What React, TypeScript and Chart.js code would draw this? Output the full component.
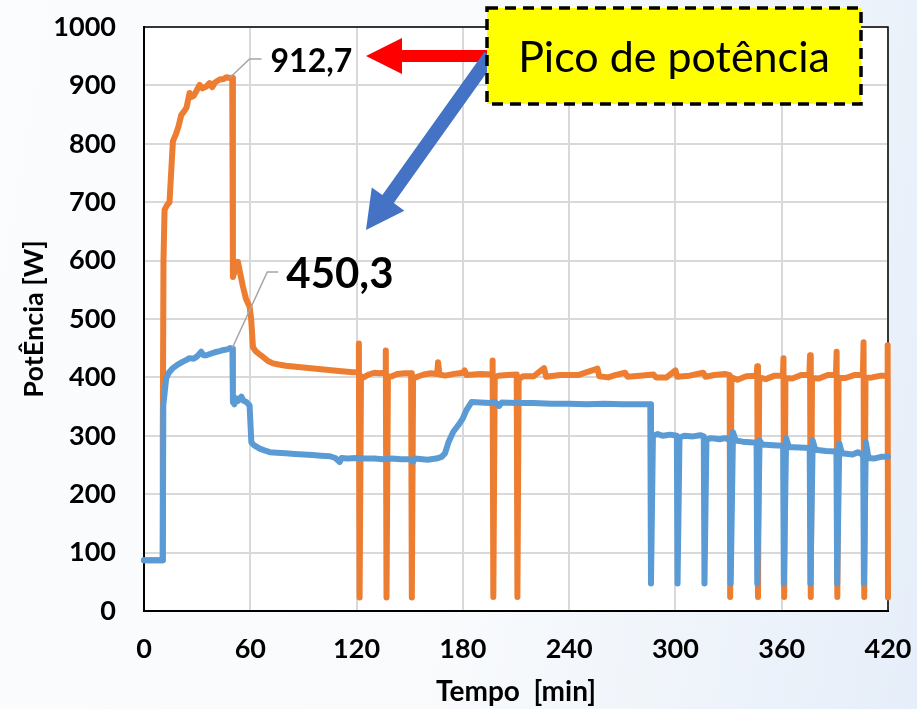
import React, { useEffect, useRef } from "react";
import { Chart, registerables } from "chart.js";

Chart.register(...registerables);

// ---- data ----
const xTickValues = [0, 60, 120, 180, 240, 300, 360, 420];
const yTickValues = [0, 100, 200, 300, 400, 500, 600, 700, 800, 900, 1000];

const blueTime = [
  0, 10.6, 10.9, 12.5, 14, 16.3, 19, 22, 24, 25.7, 28, 30, 32.3, 33.5, 35.2, 38, 40, 42.7, 45, 47, 48.7, 49.9,
  50.2, 51, 52.1, 53.2, 55, 56.2, 57.8, 59.6, 60.6, 62, 65.3, 68, 71, 75, 80, 85, 90, 95, 100, 105, 108, 110.5,
  111.5, 115, 120, 125, 130, 135, 140, 145, 150, 152, 153, 160, 165, 168, 169.9, 172, 174.6, 177.4, 180, 182,
  185, 190, 195, 198, 200.5, 202, 210, 220, 230, 240, 250, 260, 270, 280, 285.8, 286.2, 287.3, 290, 293, 297,
  300.8, 301.2, 302.3, 305, 310, 314, 316, 316.4, 317.5, 320, 325, 328, 330.8, 331.2, 332.5, 334, 338, 342,
  345.8, 346.2, 347.5, 349, 355, 360.8, 361.2, 362.5, 364, 370, 375.8, 376.2, 377.5, 379, 385, 390.9, 391.3,
  392.5, 394, 400, 403, 406, 406.4, 407.5, 409, 412, 416, 420,
];
const blueValue = [
  87, 87, 352, 398, 408, 416, 422, 427, 430, 433, 432, 436, 444, 438, 438, 441, 443, 445, 447, 448, 450.3, 449,
  358, 354, 364, 360, 367, 360, 358, 352, 289, 284, 278, 275, 272, 271, 270, 269, 268, 267, 266, 265, 262, 255,
  262, 261, 262, 261, 261, 260, 261, 260, 260, 256, 261, 259, 261, 264, 270, 290, 307, 318, 330, 344,
  358, 357, 356, 358, 351, 357, 356, 356, 355, 355, 354, 355, 354, 354, 354, 47, 300, 303, 300, 302,
  300, 47, 297, 300, 299, 301, 299, 47, 293, 296, 294, 296, 293, 47, 306, 292, 290, 289,
  288, 47, 292, 285, 284, 283, 47, 296, 281, 280, 279, 47, 292, 276, 274, 273, 47,
  287, 270, 268, 272, 267, 47, 289, 262, 261, 264, 264,
];

const orangeTime = [
  0, 10.4, 10.6, 11, 11.6, 13, 14.4, 15.5, 16.3, 18.2, 19.5, 21, 22.5, 24, 25.7, 26.7, 28, 29.5, 31.4, 33, 35.2,
  37, 38.5, 40, 42.7, 45, 46.5, 48.3, 49.8, 50.2, 51, 52, 53, 54.5, 55.9, 57.5, 59.6, 60.5, 61.5, 63, 65, 67.2,
  70, 72.8, 76, 80, 90, 100, 110, 118, 121, 121.3, 121.7, 122.5, 124, 127, 130, 133, 136.2, 136.5, 136.9, 137.7,
  140, 143, 147, 150.8, 151.2, 151.9, 155, 158, 162, 165.5, 166, 166.8, 170, 175, 180, 181, 182, 186, 190, 196.5,
  196.8, 197.2, 198, 200, 205, 210.4, 210.8, 211.5, 214, 220, 225.8, 227, 235, 245, 256, 257, 262, 266, 271.6,
  273, 280, 287.6, 289, 295, 300, 301, 308, 315.7, 317, 322, 328, 330.6, 330.9, 331.6, 335, 340, 345.8, 346.2,
  346.6, 347.3, 351, 356, 360.7, 361, 361.4, 362.1, 366, 371, 375.6, 376, 376.4, 377.1, 381, 386, 390.6, 391,
  391.4, 392.1, 396, 401, 405.8, 406.2, 406.6, 407.3, 411, 416, 419.5, 419.8, 420,
];
const orangeValue = [
  87, 87, 300, 600, 687, 695, 700, 760, 804, 818, 830, 849, 855, 862, 887, 880, 882, 890, 901, 895, 898,
  904, 897, 905, 910, 911, 914, 912.7, 913, 572, 580, 590, 598, 575, 555, 535, 521, 500, 452, 445, 440, 435,
  428, 424, 422, 420, 417, 414, 411, 409, 409, 458, 23, 402, 400, 405, 408, 407, 408, 446, 23, 401,
  402, 406, 407, 407, 23, 398, 402, 405, 407, 406, 426, 405, 403, 406, 408, 412, 404, 405, 406, 405,
  429, 24, 400, 403, 404, 405, 24, 397, 402, 402, 416, 401, 404, 404, 415, 402, 400, 404, 408,
  401, 403, 405, 400, 400, 412, 401, 403, 408, 401, 404, 406, 404, 24, 400, 396, 402, 403, 419,
  24, 400, 397, 403, 403, 433, 24, 399, 398, 404, 404, 438, 24, 399, 398, 404, 404, 444,
  24, 399, 399, 404, 404, 460, 24, 399, 400, 403, 403, 455, 23,
];

const orangePeak = { t: 48.3, v: 912.7, label: "912,7" };
const bluePeak = { t: 48.7, v: 450.3, label: "450,3" };
const calloutText = "Pico de potência";
const xTitle = "Tempo  [min]";
const yTitle = "PotÊncia [W]";

const FONT = "Lato, 'Liberation Sans', sans-serif";

function arrowPolygon(ctx: CanvasRenderingContext2D, x0: number, y0: number, x1: number, y1: number, shaft: number, headLen: number, headHalf: number) {
  const dx = x1 - x0;
  const dy = y1 - y0;
  const len = Math.hypot(dx, dy);
  const ux = dx / len;
  const uy = dy / len;
  const nx = -uy;
  const ny = ux;
  const bx = x1 - ux * headLen;
  const by = y1 - uy * headLen;
  const s = shaft / 2;
  ctx.beginPath();
  ctx.moveTo(x0 + nx * s, y0 + ny * s);
  ctx.lineTo(bx + nx * s, by + ny * s);
  ctx.lineTo(bx + nx * headHalf, by + ny * headHalf);
  ctx.lineTo(x1, y1);
  ctx.lineTo(bx - nx * headHalf, by - ny * headHalf);
  ctx.lineTo(bx - nx * s, by - ny * s);
  ctx.lineTo(x0 - nx * s, y0 - ny * s);
  ctx.closePath();
  ctx.fill();
}

const decorPlugin = {
  id: "decor",
  beforeDraw(chart: any) {
    const { ctx, chartArea: a } = chart;
    ctx.save();
    ctx.fillStyle = "#ffffff";
    ctx.fillRect(a.left, a.top, a.right - a.left, a.bottom - a.top);
    ctx.restore();
  },
  beforeDatasetsDraw(chart: any) {
    const { ctx, chartArea: a } = chart;
    ctx.save();
    ctx.strokeStyle = "#000";
    ctx.lineWidth = 1.5;
    ctx.beginPath();
    ctx.moveTo(a.left, a.top);
    ctx.lineTo(a.right, a.top);
    ctx.lineTo(a.right, a.bottom);
    ctx.stroke();
    ctx.restore();
  },
  afterDraw(chart: any) {
    const { ctx } = chart;
    const xs = chart.scales.x;
    const ys = chart.scales.y;
    ctx.save();

    // leader lines + value labels
    const op = { x: xs.getPixelForValue(orangePeak.t), y: ys.getPixelForValue(orangePeak.v) };
    const bp = { x: xs.getPixelForValue(bluePeak.t), y: ys.getPixelForValue(bluePeak.v) };
    ctx.strokeStyle = "#a5a5a5";
    ctx.lineWidth = 1.5;
    ctx.beginPath();
    ctx.moveTo(op.x, op.y);
    ctx.lineTo(op.x + 20, op.y - 19);
    ctx.lineTo(op.x + 32, op.y - 19);
    ctx.stroke();
    ctx.beginPath();
    ctx.moveTo(bp.x + 2, bp.y);
    ctx.lineTo(bp.x + 37, bp.y - 76);
    ctx.lineTo(bp.x + 48, bp.y - 76);
    ctx.stroke();

    ctx.fillStyle = "#000";
    ctx.textAlign = "left";
    ctx.textBaseline = "alphabetic";
    ctx.font = `bold 32px ${FONT}`;
    ctx.fillText(orangePeak.label, op.x + 41, op.y - 6);
    ctx.font = `bold 42px ${FONT}`;
    ctx.fillText(bluePeak.label, bp.x + 56, bp.y - 60);

    // arrows
    ctx.fillStyle = "#ff0000";
    arrowPolygon(ctx, 490, 56, 366, 56, 12, 36, 18);
    ctx.fillStyle = "#4472c4";
    arrowPolygon(ctx, 490, 56, 366, 230, 14, 38, 20);

    // callout box
    const bx = 487, by = 8, bw = 374, bh = 96;
    ctx.fillStyle = "#ffff00";
    ctx.fillRect(bx, by, bw, bh);
    ctx.setLineDash([11, 7]);
    ctx.lineWidth = 3.5;
    ctx.strokeStyle = "#000";
    ctx.strokeRect(bx, by, bw, bh);
    ctx.setLineDash([]);
    ctx.fillStyle = "#000";
    ctx.font = `43px ${FONT}`;
    ctx.textAlign = "center";
    ctx.fillText(calloutText, bx + bw / 2, 72);
    ctx.restore();
  },
};

export default function App() {
  const ref = useRef<HTMLCanvasElement | null>(null);

  useEffect(() => {
    document.body.style.margin = "0";
    const canvas = ref.current;
    if (!canvas) return;
    const tickFont = { family: FONT, weight: "bold" as const, size: 27 };
    const chart = new Chart(canvas, {
      type: "line",
      data: {
        datasets: [
          {
            label: "Série azul",
            data: blueTime.map((t, i) => ({ x: t, y: blueValue[i] })),
            borderColor: "#5b9bd5",
            borderWidth: 6,
            pointRadius: 0,
            tension: 0,
            borderJoinStyle: "round",
            borderCapStyle: "round",
            clip: false as any,
          },
          {
            label: "Série laranja",
            data: orangeTime.map((t, i) => ({ x: t, y: orangeValue[i] })),
            borderColor: "#ed7d31",
            borderWidth: 6,
            pointRadius: 0,
            tension: 0,
            borderJoinStyle: "round",
            borderCapStyle: "round",
            clip: false as any,
          },
        ],
      },
      options: {
        responsive: false,
        maintainAspectRatio: false,
        animation: false,
        layout: { padding: { top: 27, right: 29, left: 0, bottom: 0 } },
        plugins: { legend: { display: false }, tooltip: { enabled: false } },
        scales: {
          x: {
            type: "linear",
            min: 0,
            max: 420,
            afterBuildTicks: (s: any) => {
              s.ticks = xTickValues.map((v) => ({ value: v }));
            },
            ticks: {
              color: "#000",
              font: tickFont,
              padding: 22,
              maxRotation: 0,
              autoSkip: false,
              callback: (v: any) => String(v),
            },
            grid: { color: "#d9d9d9", lineWidth: 2, drawTicks: false },
            border: { color: "#000", width: 2 },
            title: {
              display: true,
              text: xTitle,
              color: "#000",
              font: { family: FONT, weight: "bold", size: 28 },
              padding: { top: 0, bottom: 0 },
            },
            afterFit: (s: any) => {
              s.height = 98;
              s.paddingLeft = 0;
              s.paddingRight = 0;
            },
          },
          y: {
            min: 0,
            max: 1000,
            afterBuildTicks: (s: any) => {
              s.ticks = yTickValues.map((v) => ({ value: v }));
            },
            ticks: {
              color: "#000",
              font: tickFont,
              padding: 28,
              autoSkip: false,
              callback: (v: any) => String(v),
            },
            grid: { color: "#d9d9d9", lineWidth: 2, drawTicks: false },
            border: { color: "#000", width: 2 },
            title: {
              display: true,
              text: yTitle,
              color: "#000",
              font: { family: FONT, weight: "bold", size: 27 },
              padding: { top: 18, bottom: 0 },
            },
            afterFit: (s: any) => {
              s.width = 144;
              s.paddingTop = 0;
              s.paddingBottom = 0;
            },
          },
        },
      },
      plugins: [decorPlugin],
    });
    return () => chart.destroy();
  }, []);

  return (
    <div
      style={{
        width: 917,
        height: 709,
        position: "relative",
        background: "linear-gradient(100deg, #fbfcfd 0%, #f8fafc 55%, #e6eef9 100%)",
      }}
    >
      <canvas ref={ref} width={917} height={709} style={{ display: "block" }} />
    </div>
  );
}
